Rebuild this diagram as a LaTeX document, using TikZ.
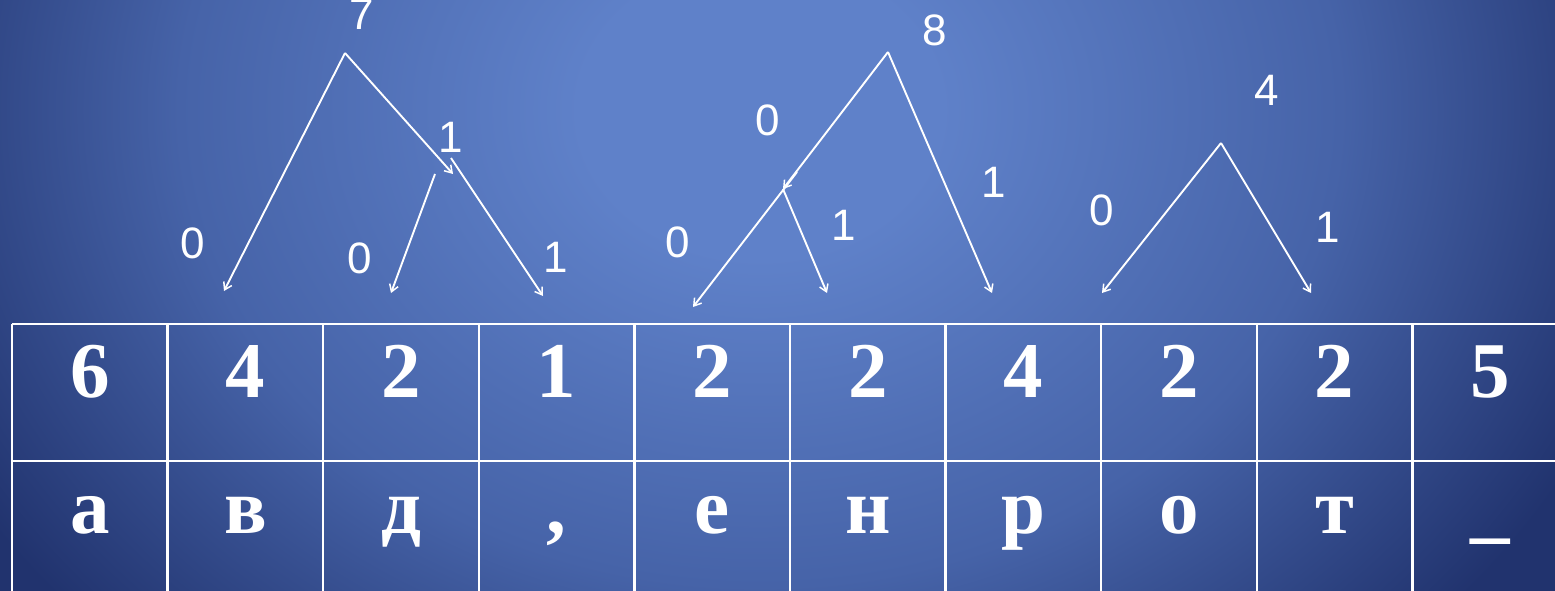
\documentclass[tikz,border=0pt]{standalone}
\usepackage{fontspec}
\setmainfont{Liberation Serif}
\newfontfamily\labelfont{Liberation Sans}
\usetikzlibrary{arrows.meta}
\definecolor{bgcenter}{RGB}{95,129,201}
\definecolor{bgmid}{RGB}{70,99,168}
\definecolor{bgouter}{RGB}{33,51,110}
% 25bp of the shading = half width of the shaded rectangle (1100px)
\pgfdeclareradialshading{bgshade}{\pgfpoint{0bp}{0bp}}{color(0bp)=(bgcenter); color(4.1bp)=(bgcenter); color(13.2bp)=(bgmid); color(20.9bp)=(bgouter); color(50bp)=(bgouter)}
\tikzset{
  branch/.style={draw=white, line width=1.9pt, -{Straight Barb[length=7pt,width=9pt,line width=1.5pt]}},
  bit/.style={text=white, inner sep=0pt, font=\labelfont\fontsize{44}{44}\selectfont},
  cell/.style={text=white, inner sep=0pt, anchor=base, font=\bfseries\fontsize{79}{79}\selectfont},
  grid/.style={draw=white, line width=2.4pt}
}
\begin{document}
\begin{tikzpicture}[x=1pt,y=-1pt]
\useasboundingbox (0,0) rectangle (1555,591);
\begin{scope}
\clip (0,0) rectangle (1555,591);
\shade[shading=bgshade] (-340,-792) rectangle (1860,1012);
% table grid
\draw[grid] (12,324) -- (1560,324);
\draw[grid] (12,461) -- (1560,461);
\foreach \k in {0,...,9} {
  \draw[grid] ({12+155.6*\k},324) -- ({12+155.6*\k},595);
}
% label "7" partly cut by top edge
\node[bit] (n7) at (362,14) {7};
\end{scope}
% cells
\foreach \v [count=\i from 0] in {6,4,2,1,2,2,4,2,2,5} {
  \node[cell] (num\i) at ({12+155.6*(\i+0.5)},397) {\v};
}
\foreach \v [count=\i from 0] in {а,в,д,{,},е,н,р,о,т,\_} {
  \node[cell] (chr\i) at ({12+155.6*(\i+0.5)},533) {\v};
}
% tree 1
\coordinate (r1) at (345,53);
\coordinate (t1a) at (224,291);
\coordinate (m1) at (453,174);
\coordinate (s1b) at (451,158);
\coordinate (t1b) at (543,296);
\coordinate (s1c) at (435,174);
\coordinate (t1c) at (391,293);
\draw[branch] (r1) -- (t1a);
\draw[branch] (r1) -- (m1);
\draw[branch] (s1b) -- (t1b);
\draw[branch] (s1c) -- (t1c);
\node[bit] (b1a) at (193,243) {0};
\node[bit] (b1c) at (360,258) {0};
\node[bit] (b1m) at (451,137) {1};
\node[bit] (b1b) at (556,257) {1};
% tree 2
\coordinate (r2) at (888,52);
\coordinate (m2) at (783,189);
\coordinate (s2a) at (797,172);
\coordinate (t2a) at (693,307);
\coordinate (t2b) at (827,293);
\coordinate (t2c) at (992,293);
\draw[branch] (r2) -- (m2);
\draw[branch] (s2a) -- (t2a);
\draw[branch] (m2) -- (t2b);
\draw[branch] (r2) -- (t2c);
\node[bit] (n8) at (935,30) {8};
\node[bit] (b2m) at (768,120) {0};
\node[bit] (b2a) at (678,242) {0};
\node[bit] (b2b) at (844,225) {1};
\node[bit] (b2c) at (994,182) {1};
% tree 3
\coordinate (r3) at (1221,143);
\coordinate (t3a) at (1102,293);
\coordinate (t3b) at (1311,293);
\draw[branch] (r3) -- (t3a);
\draw[branch] (r3) -- (t3b);
\node[bit] (n4) at (1267,90) {4};
\node[bit] (b3a) at (1102,210) {0};
\node[bit] (b3b) at (1328,227) {1};
\end{tikzpicture}
\end{document}
